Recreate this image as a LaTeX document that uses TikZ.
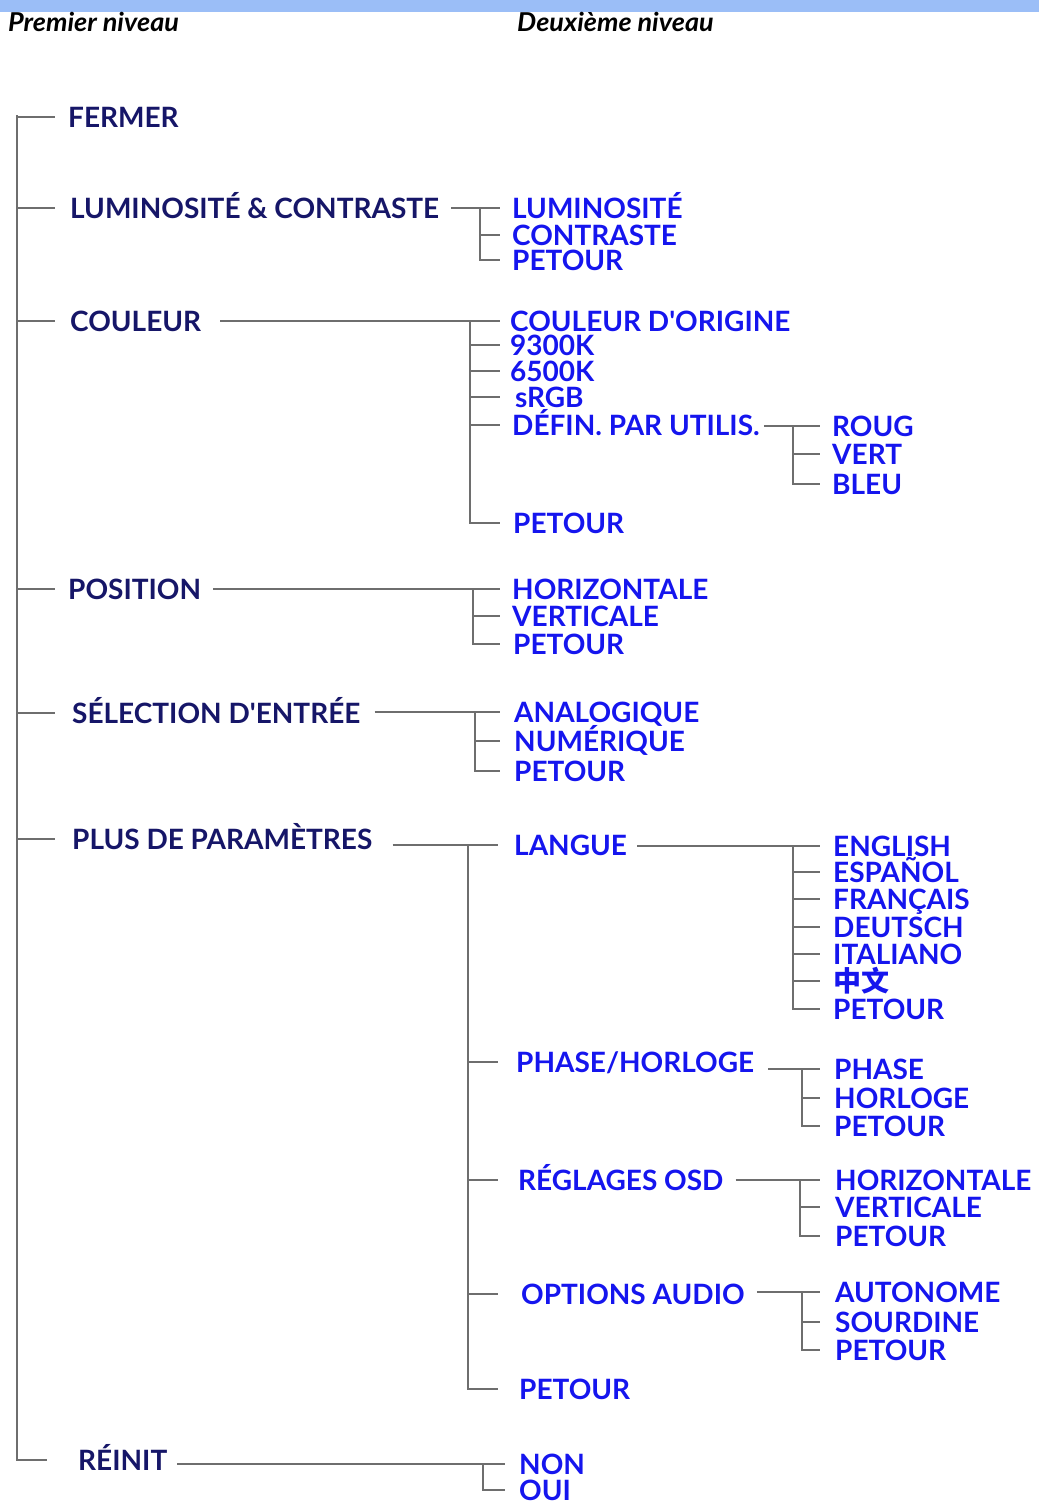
\documentclass[tikz,border=0pt]{standalone}
\usepackage{fontspec}
\usepackage{graphicx}
\newfontfamily\gill{Lato}
\newfontfamily\cjk{Noto Sans CJK SC}
\definecolor{navy}{HTML}{161668}
\definecolor{menublue}{HTML}{1515EE}
\definecolor{band}{HTML}{9BBEF7}
\definecolor{lngray}{HTML}{6E6E6E}
\tikzset{
  base/.style={anchor=west,inner sep=0pt,text height=20pt,text depth=0pt,font=\gill\bfseries\fontsize{28}{28}\selectfont},
  lone/.style={base,text=navy},
  ltwo/.style={base,text=menublue},
  hdr/.style={anchor=west,inner sep=0pt,font=\gill\bfseries\itshape\fontsize{26}{26}\selectfont,text=black},
  ln/.style={draw=lngray,line width=1.6pt}
}
\begin{document}
\begin{tikzpicture}[x=1pt,y=-1pt]
\useasboundingbox (0,0) rectangle (1039,1502);
\fill[band] (0,0) rectangle (1039,12);
\node[hdr] (h1) at (8,22) {\scalebox{1.04}[1]{Premier niveau}};
\node[hdr] (h2) at (517,22) {\scalebox{1.04}[1]{Deuxième niveau}};
% level 1
\node[lone] (fermer) at (68,117) {FERMER};
\node[lone] (lumc) at (70,208) {LUMINOSITÉ \& CONTRASTE};
\node[lone] (coul) at (70,321) {COULEUR};
\node[lone] (pos) at (68,589) {POSITION};
\node[lone] (sel) at (72,713) {SÉLECTION D'ENTRÉE};
\node[lone] (plus) at (72,839) {PLUS DE PARAMÈTRES};
\node[lone] (reinit) at (78,1460) {RÉINIT};
% level 2
\node[ltwo] (lum) at (512,208) {LUMINOSITÉ};
\node[ltwo] (con) at (512,235) {CONTRASTE};
\node[ltwo] (pet1) at (512,260) {PETOUR};
\node[ltwo] (orig) at (510,321) {COULEUR D'ORIGINE};
\node[ltwo] (k93) at (510,345) {9300K};
\node[ltwo] (k65) at (510,371) {6500K};
\node[ltwo] (srgb) at (515,397) {sRGB};
\node[ltwo] (defin) at (512,425) {DÉFIN. PAR UTILIS.};
\node[ltwo] (pet2) at (513,523) {PETOUR};
\node[ltwo] (roug) at (832,426) {ROUG};
\node[ltwo] (vert) at (832,454) {VERT};
\node[ltwo] (bleu) at (832,484) {BLEU};
\node[ltwo] (hor) at (512,589) {HORIZONTALE};
\node[ltwo] (ver) at (512,616) {VERTICALE};
\node[ltwo] (pet3) at (513,644) {PETOUR};
\node[ltwo] (ana) at (514,712) {ANALOGIQUE};
\node[ltwo] (num) at (514,741) {NUMÉRIQUE};
\node[ltwo] (pet4) at (514,771) {PETOUR};
\node[ltwo] (langue) at (514,845) {LANGUE};
\node[ltwo] (phase) at (516,1062) {PHASE/HORLOGE};
\node[ltwo] (regl) at (518,1180) {RÉGLAGES OSD};
\node[ltwo] (opt) at (521,1294) {OPTIONS AUDIO};
\node[ltwo] (pet5) at (519,1389) {PETOUR};
\node[ltwo] (en) at (833,846) {ENGLISH};
\node[ltwo] (es) at (833,872) {ESPAÑOL};
\node[ltwo] (fr) at (833,899) {FRANÇAIS};
\node[ltwo] (de) at (833,927) {DEUTSCH};
\node[ltwo] (it) at (833,954) {ITALIANO};
\node[ltwo] (zh) at (833,981) {\cjk 中文};
\node[ltwo] (pet6) at (833,1009) {PETOUR};
\node[ltwo] (ph) at (834,1069) {PHASE};
\node[ltwo] (horl) at (834,1098) {HORLOGE};
\node[ltwo] (pet7) at (834,1126) {PETOUR};
\node[ltwo] (hz) at (835,1180) {HORIZONTALE};
\node[ltwo] (vt) at (835,1207) {VERTICALE};
\node[ltwo] (pet8) at (835,1236) {PETOUR};
\node[ltwo] (auto) at (835,1292) {AUTONOME};
\node[ltwo] (sour) at (835,1322) {SOURDINE};
\node[ltwo] (pet9) at (835,1350) {PETOUR};
\node[ltwo] (non) at (519,1464) {NON};
\node[ltwo] (oui) at (519,1490) {OUI};
% bus coordinates
\coordinate (m) at (17,0);
\coordinate (me) at (55,0);
\coordinate (mr) at (47,0);
\coordinate (b1) at (480,0); \coordinate (b1e) at (500,0);
\coordinate (b2) at (470,0); \coordinate (b2e) at (500,0);
\coordinate (b3) at (793,0); \coordinate (b3e) at (820,0);
\coordinate (b4) at (473,0); \coordinate (b4e) at (500,0);
\coordinate (b5) at (475,0); \coordinate (b5e) at (500,0);
\coordinate (b6) at (468,0); \coordinate (b6e) at (498,0);
\coordinate (b7) at (793,0); \coordinate (b7e) at (820,0);
\coordinate (b8) at (802,0); \coordinate (b8e) at (820,0);
\coordinate (b9) at (800,0); \coordinate (b9e) at (820,0);
\coordinate (b10) at (802,0); \coordinate (b10e) at (820,0);
\coordinate (b11) at (483,0); \coordinate (b11e) at (505,0);
% main trunk
\draw[ln] (m |- fermer.west) ++(0,-2) -- (m |- reinit.west) -- (mr |- reinit.west);
\foreach \n in {fermer,lumc,coul,pos,sel,plus}
  \draw[ln] (m |- \n.west) -- (me |- \n.west);
% groups
\draw[ln] ([xshift=12pt]lumc.east |- lum.west) -- (b1e |- lum.west);
\draw[ln] (b1 |- lum.west) |- (b1e |- pet1.west);
\draw[ln] (b1 |- con.west) -- (b1e |- con.west);

\draw[ln] ([xshift=19pt]coul.east |- orig.west) -- (b2e |- orig.west);
\draw[ln] (b2 |- orig.west) |- (b2e |- pet2.west);
\foreach \n in {k93,k65,srgb,defin} \draw[ln] (b2 |- \n.west) -- (b2e |- \n.west);

\draw[ln] ([xshift=4pt]defin.east |- roug.west) -- (b3e |- roug.west);
\draw[ln] (b3 |- roug.west) |- (b3e |- bleu.west);
\draw[ln] (b3 |- vert.west) -- (b3e |- vert.west);

\draw[ln] ([xshift=12pt]pos.east |- hor.west) -- (b4e |- hor.west);
\draw[ln] (b4 |- hor.west) |- (b4e |- pet3.west);
\draw[ln] (b4 |- ver.west) -- (b4e |- ver.west);

\draw[ln] ([xshift=14pt]sel.east |- ana.west) -- (b5e |- ana.west);
\draw[ln] (b5 |- ana.west) |- (b5e |- pet4.west);
\draw[ln] (b5 |- num.west) -- (b5e |- num.west);

\draw[ln] ([xshift=20pt]plus.east |- langue.west) -- (b6e |- langue.west);
\draw[ln] (b6 |- langue.west) |- (b6e |- pet5.west);
\foreach \n in {phase,regl,opt} \draw[ln] (b6 |- \n.west) -- (b6e |- \n.west);

\draw[ln] ([xshift=10pt]langue.east |- en.west) -- (b7e |- en.west);
\draw[ln] (b7 |- en.west) |- (b7e |- pet6.west);
\foreach \n in {es,fr,de,it,zh} \draw[ln] (b7 |- \n.west) -- (b7e |- \n.west);

\draw[ln] ([xshift=14pt]phase.east |- ph.west) -- (b8e |- ph.west);
\draw[ln] (b8 |- ph.west) |- (b8e |- pet7.west);
\draw[ln] (b8 |- horl.west) -- (b8e |- horl.west);

\draw[ln] ([xshift=12pt]regl.east |- hz.west) -- (b9e |- hz.west);
\draw[ln] (b9 |- hz.west) |- (b9e |- pet8.west);
\draw[ln] (b9 |- vt.west) -- (b9e |- vt.west);

\draw[ln] ([xshift=12pt]opt.east |- auto.west) -- (b10e |- auto.west);
\draw[ln] (b10 |- auto.west) |- (b10e |- pet9.west);
\draw[ln] (b10 |- sour.west) -- (b10e |- sour.west);

\draw[ln] ([xshift=10pt]reinit.east |- non.west) -- (b11e |- non.west);
\draw[ln] (b11 |- non.west) |- (b11e |- oui.west);
\end{tikzpicture}
\end{document}
